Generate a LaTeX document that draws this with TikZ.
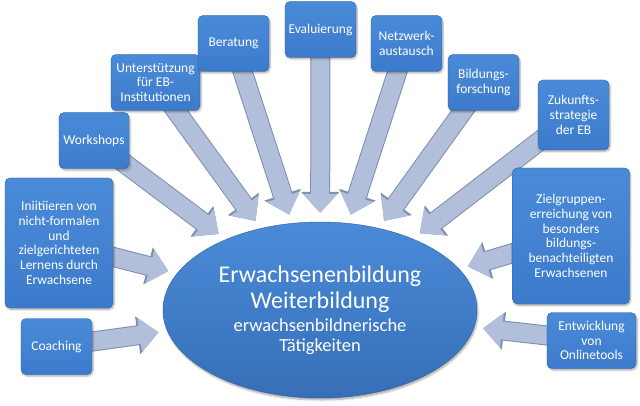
\documentclass[tikz,border=0pt]{standalone}
\usepackage{fontspec}
\setmainfont{Carlito}
\usetikzlibrary{arrows.meta,positioning,shapes.geometric,backgrounds,shadows.blur}
\definecolor{topicblue}{HTML}{3C7BCB}
\definecolor{topictop}{HTML}{4A8BD9}
\definecolor{topicedge}{HTML}{2C609F}
\definecolor{arrowfill}{HTML}{B2BFDA}
\definecolor{arrowedge}{HTML}{7F8DAE}
\newcommand{\boxfont}{\fontsize{13.5pt}{14.7pt}\selectfont}
\newcommand{\bigline}{\fontsize{24pt}{26pt}\selectfont}
\newcommand{\subline}{\fontsize{18.5pt}{20pt}\selectfont}
\tikzset{
     topic/.style = {draw=topicedge, thin, rounded corners=5pt,
                     top color=topictop, bottom color=topicblue,
                     text=white, align=center, font=\boxfont,
                     minimum width=71pt, minimum height=56pt, inner sep=2pt,
                     blur shadow={shadow xshift=1pt, shadow yshift=-1.5pt,
                                  shadow blur steps=5, shadow opacity=35}},
      core/.style = {ellipse, draw=topicedge, thin,
                     top color=topictop, bottom color=topicblue!90!black,
                     text=white, align=center, font=\bigline,
                     minimum width=314pt, minimum height=176pt, inner sep=0pt,
                     blur shadow={shadow xshift=1pt, shadow yshift=-2pt,
                                  shadow blur steps=5, shadow opacity=35}},
      feed/.style = {draw=arrowfill, line width=18pt,
                     -{Triangle[width=0pt 1.85, length=0pt 1.05]},
                     shorten >=9pt, shorten <=-14pt,
                     preaction={draw=arrowedge, line width=20pt,
                                -{Triangle[width=0pt 1.85, length=0pt 1.05]}}},
}
\begin{document}
\begin{tikzpicture}[x=1pt,y=-1pt]
 \useasboundingbox (0,0) rectangle (640,406);
 % centre
 \node[core] (core) at (320,310)
    {Erwachsenenbildung\\
     Weiterbildung\\[-3pt]
     \subline erwachsenbildnerische\\[-6pt]
     \subline T\"atigkeiten};
 % topics, clockwise from bottom left
 \path[nodes=topic]
   (56.5,346.5) node(coa){Coaching}
   (59,243)     node[minimum width=108pt, minimum height=130pt](ini)
                    {Iniitiieren von\\nicht-formalen\\und\\zielgerichteten\\Lernens durch\\Erwachsene}
   (94,140.5)   node[minimum width=70pt](ws){Workshops}
   (155.5,82.5) node[minimum width=89pt](unt){Unterst\"utzung\\f\"ur EB-\\Institutionen}
   (233.5,43.5) node(ber){Beratung}
   (320.5,29.5) node(eva){Evaluierung}
   (406.5,43.5) node(net){Netzwerk-\\austausch}
   (483.5,82.5) node(bif){Bildungs-\\forschung}
   (573.5,115)  node[minimum height=70pt](zuk){Zukunfts-\\strategie\\der EB}
   (571,236)    node[minimum width=117pt, minimum height=136pt](zie)
                    {Zielgruppen-\\erreichung von\\besonders\\bildungs-\\benachteiligten\\Erwachsenen}
   (591.5,340.5) node[minimum width=89pt](ent){Entwicklung\\von\\Onlinetools};
 % arrows into the centre
 \begin{scope}[on background layer]
  \foreach \t in {coa,ini,ws,unt,ber,eva,net,bif,zuk,zie,ent}
     \draw[feed] (\t) -- (core);
 \end{scope}
\end{tikzpicture}
\end{document}
